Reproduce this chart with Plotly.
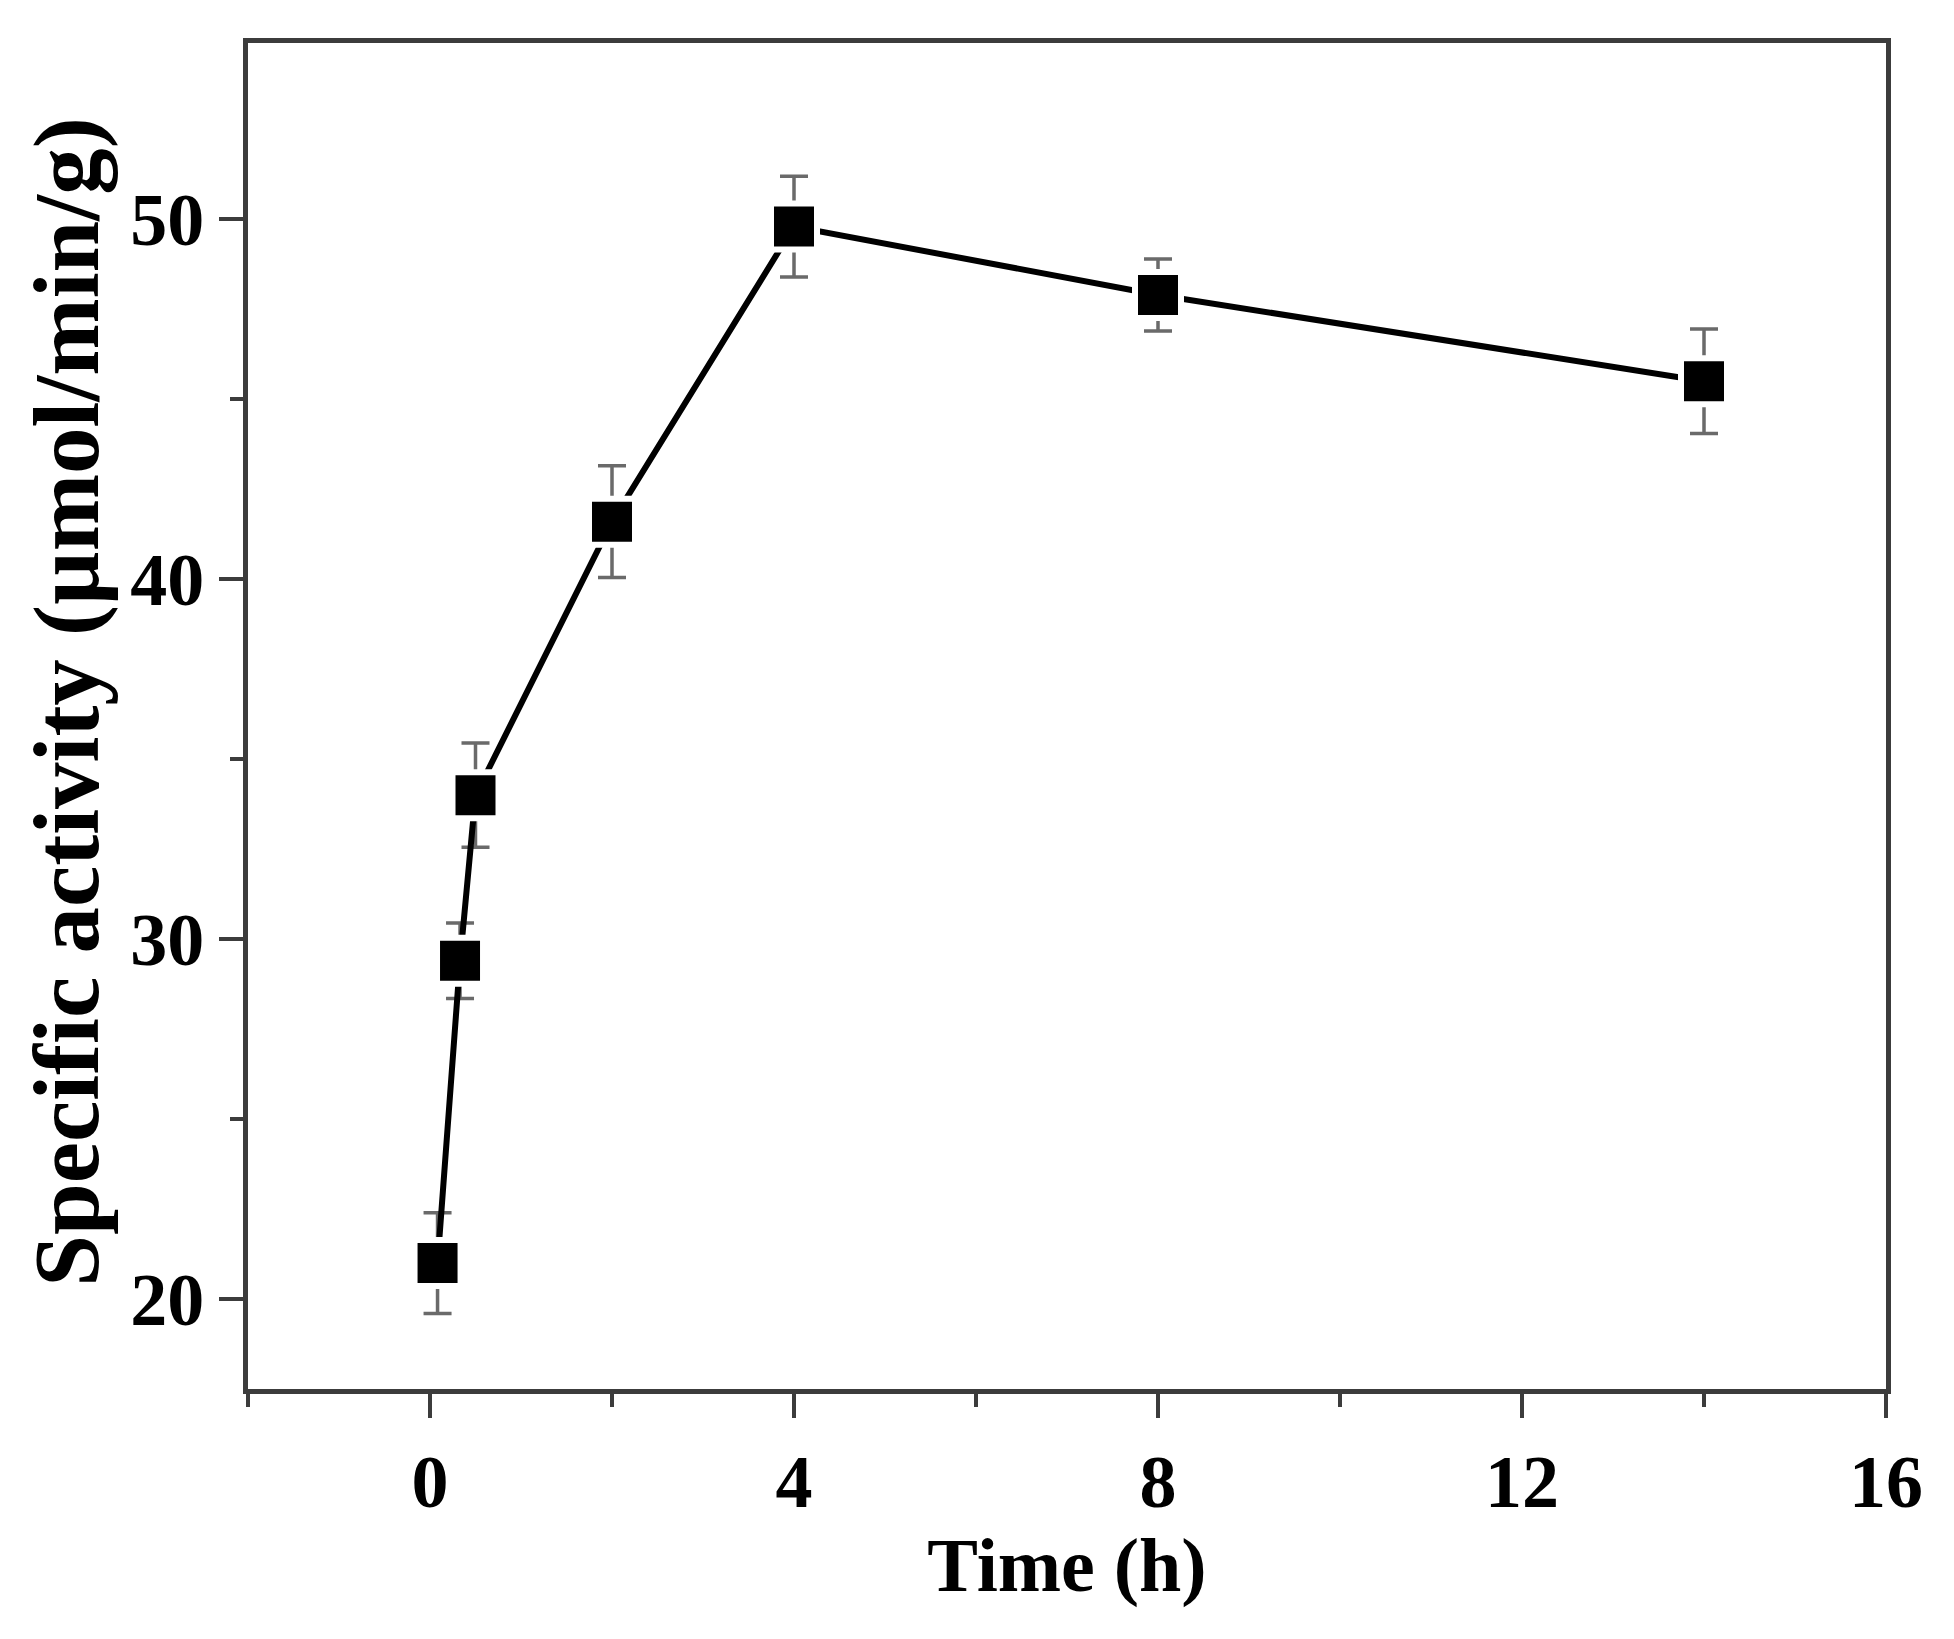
import plotly.graph_objects as go

# data
time_h = [0.083, 0.33, 0.5, 2, 4, 8, 14]
activity = [21.0, 29.4, 34.0, 41.6, 49.8, 47.9, 45.5]
activity_err = [1.4, 1.05, 1.45, 1.55, 1.4, 1.0, 1.45]

x_ticks = [0, 4, 8, 12, 16]
y_ticks = [20, 30, 40, 50]

FONT = "Liberation Serif"
AXIS_COLOR = "#3c3c3c"


def main():
    fig = go.Figure()
    fig.add_trace(go.Scatter(
        x=time_h, y=activity,
        mode="lines+markers",
        line=dict(color="black", width=6),
        marker=dict(symbol="square", size=46, color="black",
                    line=dict(color="white", width=6)),
        error_y=dict(type="data", array=activity_err, visible=True,
                     color="#6a6a6a", thickness=3.5, width=14),
        showlegend=False,
    ))

    axis_common = dict(
        showline=True, linecolor=AXIS_COLOR, linewidth=5, mirror=True,
        showgrid=False, zeroline=False,
        ticks="outside", ticklen=24, tickwidth=4, tickcolor=AXIS_COLOR,
        tickfont=dict(family=FONT, size=74, color="black", weight="bold"),
    )

    fig.update_layout(
        width=1954, height=1639,
        margin=dict(l=240, r=76, t=35, b=258),
        paper_bgcolor="white", plot_bgcolor="white",
        font=dict(family=FONT, color="black"),
        xaxis=dict(
            range=[-2, 16], tickvals=x_ticks,
            minor=dict(tickvals=[-2, 2, 6, 10, 14], ticks="outside", ticklen=13,
                       tickwidth=4, tickcolor=AXIS_COLOR),
            title=dict(text="Time (h)",
                       font=dict(family=FONT, size=76, weight="bold"),
                       standoff=4),
            **axis_common,
        ),
        yaxis=dict(
            range=[17.5, 54.9], tickvals=y_ticks,
            minor=dict(tickvals=[25, 35, 45], ticks="outside", ticklen=13,
                       tickwidth=4, tickcolor=AXIS_COLOR),
            **axis_common,
        ),
    )

    # y title as annotation so it can sit a little above the plot centre
    fig.add_annotation(
        text="Specific activity (µmol/min/g)",
        xref="paper", yref="paper", x=-0.111, y=0.51,
        xanchor="center", yanchor="middle", textangle=-90, showarrow=False,
        font=dict(family=FONT, size=93, color="black", weight="bold"),
    )

    fig.write_html("out.html")


if __name__ == "__main__":
    main()
